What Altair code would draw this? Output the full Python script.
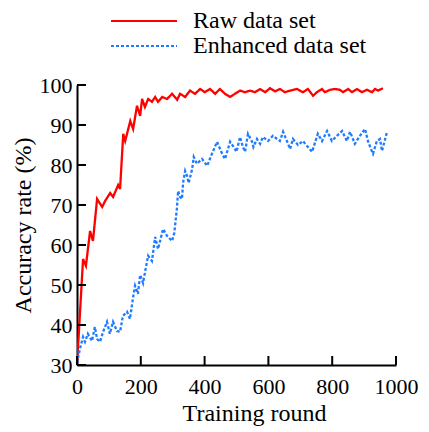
import altair as alt
import pandas as pd

# ---- data ----
red_x = [0, 19, 28, 41, 50, 63, 79, 88, 104, 113, 129, 135, 145, 151, 167, 176, 188, 198, 204, 213,
         223, 235, 245, 254, 267, 282, 298, 314, 323, 339, 354, 370, 386, 401, 417, 433, 448, 464,
         480, 495, 511, 527, 542, 558, 574, 590, 605, 621, 636, 652, 668, 690, 708, 724, 740, 752,
         768, 777, 793, 809, 824, 834, 850, 862, 878, 893, 909, 925, 934, 944, 959]
red_y = [30, 56.5, 54.8, 63.5, 61, 71.5, 69.5, 71, 73, 72, 75, 74, 87.8, 86, 91, 89, 94.8, 92.3, 96.5, 94.5,
         96.5, 95.8, 97, 95.8, 97, 96.5, 97.8, 96.3, 97.8, 97, 98.6, 97.8, 99, 98.2, 99, 97.8, 99, 97.8,
         97, 97.8, 98.6, 98.2, 98.6, 98.2, 99, 98.2, 99.2, 98.4, 99, 98.2, 98.6, 99, 98.2, 99, 97.3, 98.2,
         99, 98.2, 98.8, 99, 98.8, 98.2, 99, 98.2, 99, 98.2, 98.8, 98.2, 99, 98.6, 99.2]

blue_x = [0, 9, 19, 25, 34, 47, 56, 63, 72, 82, 94, 103, 113, 125, 135, 144, 157, 166, 176, 182, 191,
          198, 207, 215, 223, 235, 245, 254, 270, 282, 298, 305, 313, 317, 323, 329, 333, 339, 345,
          350, 361, 366, 376, 392, 408, 423, 439, 455, 464, 480, 495, 500, 511, 520, 527, 536, 549,
          553, 564, 574, 583, 599, 614, 636, 646, 658, 668, 677, 693, 708, 724, 737, 755, 768, 784,
          799, 815, 831, 846, 856, 871, 887, 903, 912, 925, 928, 940, 950, 956, 966, 972]
blue_y = [30.5, 34, 37, 35.8, 37.8, 36, 39.5, 36.5, 35.8, 38.3, 40.8, 37.8, 40.8, 38.5, 38.3, 42.3, 43.3,
          41.5, 47, 49.8, 47.8, 52.5, 50.5, 54, 57.3, 56, 62, 59, 64, 62.3, 61, 63, 69, 73.5, 72, 71.5,
          75.8, 78.5, 77.3, 75.5, 79, 82, 80.3, 81.5, 79.8, 82.8, 85.8, 82.8, 81.5, 85.8, 84, 83.3, 87,
          84.5, 83.3, 87.8, 85.8, 84.5, 86.5, 85.3, 87, 86, 87.3, 86, 88.3, 86, 84, 86.5, 85, 86, 84.5,
          83.3, 87.8, 86, 88.5, 86, 87.3, 88.5, 86, 88.3, 85.3, 87.3, 89, 86, 83.3, 82.8, 86, 86.5,
          83.5, 86.5, 88.3]

series = ["Raw data set", "Enhanced data set"]
colors = ["#FF0000", "#1F7BFF"]
x_ticks = [0, 200, 400, 600, 800, 1000]
y_ticks = [30, 40, 50, 60, 70, 80, 90, 100]

FONT = "Liberation Serif"

df = pd.concat([
    pd.DataFrame({"round": red_x, "acc": red_y, "series": series[0], "order": 1}),
    pd.DataFrame({"round": blue_x, "acc": blue_y, "series": series[1], "order": 0}),
])

W, H = 319, 280
xscale = alt.Scale(domain=[0, 1000], nice=False)
yscale = alt.Scale(domain=[30, 100], nice=False)

common = dict(ticks=False, tickSize=0, grid=False, labelFontSize=22, titleFontSize=24,
              domainWidth=2, domainColor="black", labelColor="black", titleColor="black",
              labelFont=FONT, titleFont=FONT, titleFontWeight="normal", labelFlush=False,
              format="d")
xaxis = alt.Axis(values=x_ticks, title="Training round", labelPadding=11, titlePadding=4,
                 titleX=177, titleAlign="center", **common)
yaxis = alt.Axis(values=y_ticks, title="Accuracy rate (%)", labelPadding=5, titlePadding=4,
                 **common)

leg = alt.Legend(orient="none", legendX=55, legendY=-76, title=None,
                 symbolType="M-3,0L3,0", symbolSize=484, symbolStrokeWidth=2,
                 labelFontSize=24, labelFont=FONT, labelColor="black",
                 labelOffset=37, rowPadding=1, padding=0, labelLimit=400)

lines = alt.Chart(df).mark_line(strokeWidth=2.3, clip=True).encode(
    x=alt.X("round:Q", scale=xscale, axis=xaxis),
    y=alt.Y("acc:Q", scale=yscale, axis=yaxis),
    color=alt.Color("series:N", scale=alt.Scale(domain=series, range=colors), legend=leg),
    strokeDash=alt.StrokeDash("series:N",
                              scale=alt.Scale(domain=series, range=[[1, 0], [3, 2]]),
                              legend=leg),
    order=alt.Order("order:Q"),
)

xt = alt.Chart(pd.DataFrame({"t": x_ticks})).mark_rule(color="black", strokeWidth=2).encode(
    x=alt.X("t:Q", scale=xscale, axis=xaxis), y=alt.value(H), y2=alt.value(H - 9))
yt = alt.Chart(pd.DataFrame({"t": y_ticks})).mark_rule(color="black", strokeWidth=2).encode(
    y=alt.Y("t:Q", scale=yscale, axis=yaxis), x=alt.value(0), x2=alt.value(9))

chart = alt.layer(lines, xt, yt).properties(
    width=W, height=H, background="white",
    autosize=alt.AutoSizeParams(type="none"),
    padding={"left": 69, "top": 77, "right": 25, "bottom": 63},
).configure_view(stroke=None)

chart.save("out.html", embed_options={"renderer": "svg", "actions": False})
